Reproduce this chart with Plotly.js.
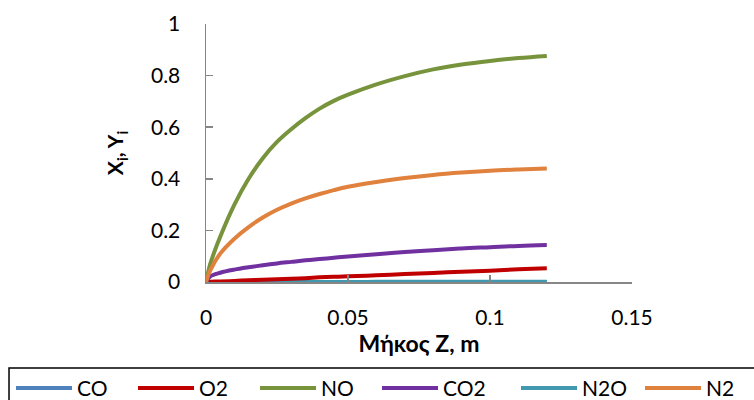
<!DOCTYPE html>
<html>
<head>
<meta charset="utf-8">
<script src="https://cdn.plot.ly/plotly-3.0.1.min.js"></script>
<style>html,body{margin:0;padding:0;background:#fff;}#chart{width:754px;height:400px;}</style>
</head>
<body>
<div id="chart"></div>
<script>
// Length Z, m
var zValues = [0, 0.0015, 0.005, 0.01, 0.015, 0.02, 0.025, 0.03, 0.035, 0.04, 0.045, 0.05, 0.06, 0.07, 0.08, 0.09, 0.1, 0.11, 0.12];
var seriesNames = ["CO", "O2", "NO", "CO2", "N2O", "N2"];
var coValues  = [0, 0, 0, 0, 0, 0, 0, 0, 0, 0, 0, 0, 0, 0, 0, 0, 0, 0, 0];
var o2Values  = [0, 0.001, 0.002, 0.004, 0.007, 0.009, 0.011, 0.013, 0.015, 0.018, 0.020, 0.022, 0.026, 0.031, 0.035, 0.040, 0.044, 0.049, 0.053];
var noValues  = [0, 0.070, 0.175, 0.300, 0.400, 0.480, 0.543, 0.592, 0.635, 0.672, 0.702, 0.726, 0.766, 0.798, 0.824, 0.843, 0.857, 0.868, 0.876];
var co2Values = [0, 0.022, 0.036, 0.048, 0.057, 0.065, 0.072, 0.078, 0.084, 0.089, 0.094, 0.099, 0.108, 0.116, 0.123, 0.130, 0.135, 0.140, 0.143];
var n2oValues = [0, 0, 0, 0, 0, 0, 0, 0, 0.0002, 0.0003, 0.0003, 0.0004, 0.0005, 0.0006, 0.0007, 0.0008, 0.0009, 0.001, 0.001];
var n2Values  = [0, 0.045, 0.110, 0.168, 0.213, 0.250, 0.280, 0.304, 0.324, 0.341, 0.356, 0.369, 0.388, 0.403, 0.415, 0.424, 0.431, 0.436, 0.440];
var xTickVals = [0, 0.05, 0.1, 0.15];
var yTickVals = [0, 0.2, 0.4, 0.6, 0.8, 1];

var colors = {CO: "#4F81BD", O2: "#C00000", NO: "#77933C", CO2: "#7030A0", N2O: "#4198AF", N2: "#E0823D"};
var valuesByName = {CO: coValues, O2: o2Values, NO: noValues, CO2: co2Values, N2O: n2oValues, N2: n2Values};
var drawOrder = ["CO", "N2O", "O2", "NO", "CO2", "N2"];
var legendOf = {CO: "legend", O2: "legend", NO: "legend", CO2: "legend", N2O: "legend2", N2: "legend2"};

var traces = drawOrder.map(function (name) {
  return {
    x: zValues,
    y: valuesByName[name],
    name: name,
    type: "scatter",
    mode: "lines",
    line: {color: colors[name], width: 4, shape: "spline", smoothing: 1},
    legend: legendOf[name],
    legendrank: seriesNames.indexOf(name) + 1,
    hoverinfo: "skip"
  };
});

var font = "Lato, 'Open Sans', sans-serif";
var legendBase = {
  orientation: "h",
  xanchor: "left",
  y: -0.333, yanchor: "top",
  bgcolor: "rgba(0,0,0,0)",
  borderwidth: 0,
  font: {family: font, size: 21, color: "#000000"},
  itemwidth: 56,
  traceorder: "normal"
};
var legend1 = Object.assign({}, legendBase, {x: -0.4577, entrywidth: 51});
var legend2 = Object.assign({}, legendBase, {x: 0.7277, entrywidth: 53});

var layout = {
  width: 754,
  height: 400,
  margin: {l: 206, r: 122, t: 24, b: 118, autoexpand: false},
  paper_bgcolor: "#ffffff",
  plot_bgcolor: "#ffffff",
  font: {family: font, color: "#000000", size: 21},
  showlegend: true,
  legend: legend1,
  legend2: legend2,
  xaxis: {
    range: [0, 0.15],
    tickvals: xTickVals,
    ticktext: xTickVals.map(String),
    ticks: "inside",
    ticklen: 7,
    tickwidth: 1.5,
    tickcolor: "#868686",
    showline: true,
    linecolor: "#868686",
    linewidth: 1.5,
    showgrid: false,
    zeroline: false,
    ticklabelstandoff: 16,
    tickfont: {family: font, size: 21, color: "#000000"},
    title: {text: "Μήκος Z, m", font: {family: font, size: 23, color: "#000000", weight: "bold"}, standoff: 4},
    automargin: false,
    fixedrange: true
  },
  yaxis: {
    range: [0, 1],
    tickvals: yTickVals,
    ticktext: yTickVals.map(String),
    ticks: "inside",
    ticklen: 7,
    tickwidth: 1.5,
    tickcolor: "#868686",
    showline: true,
    linecolor: "#868686",
    linewidth: 1.5,
    showgrid: false,
    zeroline: false,
    ticklabelstandoff: 20,
    tickfont: {family: font, size: 21, color: "#000000"},
    title: {text: "X<sub>i</sub>, Y<sub>i</sub>", font: {family: font, size: 21, color: "#000000", weight: "bold"}, standoff: 21},
    automargin: false,
    fixedrange: true
  },
  shapes: [{
    type: "rect", xref: "paper", yref: "paper",
    x0: -0.4624, x1: 1.32, y0: -0.3333, y1: -0.52,
    line: {color: "#000000", width: 1.5},
    fillcolor: "rgba(0,0,0,0)", layer: "below"
  }]
};

Plotly.newPlot("chart", traces, layout, {displayModeBar: false, staticPlot: true});
</script>
</body>
</html>
